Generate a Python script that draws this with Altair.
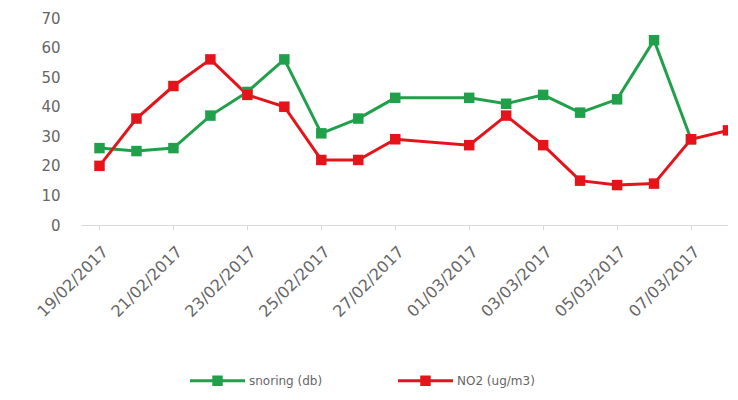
import altair as alt
import pandas as pd

dates = ["2017-02-19", "2017-02-20", "2017-02-21", "2017-02-22", "2017-02-23",
         "2017-02-24", "2017-02-25", "2017-02-26", "2017-02-27", "2017-03-01",
         "2017-03-02", "2017-03-03", "2017-03-04", "2017-03-05", "2017-03-06",
         "2017-03-07", "2017-03-08"]
snoring = [26, 25, 26, 37, 45, 56, 31, 36, 43, 43, 41, 44, 38, 42.5, 62.5, 29, None]
no2 = [20, 36, 47, 56, 44, 40, 22, 22, 29, 27, 37, 27, 15, 13.5, 14, 29, 32]
series_names = ["snoring (db)", "NO2 (ug/m3)"]
series_colors = ["#20a04b", "#e5141b"]
tick_dates = [(2017, 2, 19), (2017, 2, 21), (2017, 2, 23), (2017, 2, 25), (2017, 2, 27),
              (2017, 3, 1), (2017, 3, 3), (2017, 3, 5), (2017, 3, 7)]
y_ticks = [0, 10, 20, 30, 40, 50, 60, 70]

rows = []
for name, vals in zip(series_names, [snoring, no2]):
    for d, v in zip(dates, vals):
        if v is not None:
            rows.append({"date": d + "T00:00:00Z", "series": name, "value": v})
df = pd.DataFrame(rows)

font = "DejaVu Sans"
label_color = "#666666"

x_enc = alt.X(
    "date:T",
    scale=alt.Scale(type="utc",
                    domain=[alt.DateTime(year=2017, month=2, date=18, hours=12, utc=True),
                            alt.DateTime(year=2017, month=3, date=8, utc=True)]),
    axis=alt.Axis(
        title=None,
        values=[alt.DateTime(year=y, month=m, date=d, utc=True) for (y, m, d) in tick_dates],
        labelExpr="utcFormat(datum.value, '%d/%m/%Y')",
        labelAngle=-45,
        labelAlign="right",
        labelBaseline="top",
        labelPadding=13,
        labelOverlap=False,
        labelFont=font,
        labelFontSize=16,
        labelColor=label_color,
        domainColor="#d9d9d9",
        tickColor="#d9d9d9",
        tickSize=5,
        grid=False,
    ),
)
y_enc = alt.Y(
    "value:Q",
    scale=alt.Scale(domain=[0, 70], nice=False),
    axis=alt.Axis(
        title=None,
        values=y_ticks,
        domain=False,
        ticks=False,
        grid=False,
        labelPadding=21,
        labelFont=font,
        labelFontSize=15,
        labelColor=label_color,
    ),
)
color_scale = alt.Scale(domain=series_names, range=series_colors)

lines = alt.Chart(df).mark_line(strokeWidth=3).encode(
    x=x_enc, y=y_enc,
    color=alt.Color("series:N", scale=color_scale, legend=None, sort=series_names),
    detail="series:N",
)
points = alt.Chart(df).mark_square(size=110, opacity=1).encode(
    x=x_enc, y=y_enc,
    color=alt.Color(
        "series:N", scale=color_scale, sort=series_names,
        legend=alt.Legend(
            title=None,
            orient="none",
            direction="horizontal",
            legendX=109,
            legendY=335,
            symbolType="M-1,-0.055H1V0.055H-1Z M-0.19,-0.19H0.19V0.19H-0.19Z",
            symbolSize=3025,
            symbolStrokeWidth=0,
            symbolOpacity=1,
            labelFont=font,
            labelFontSize=12,
            labelColor=label_color,
            labelOffset=4,
            columnPadding=75,
        ),
    ),
)

chart = alt.layer(lines, points).resolve_legend(color="independent").properties(
    width=647,
    height=207,
    padding={"left": 73, "top": 10, "right": 0, "bottom": 165},
    autosize=alt.AutoSizeParams(type="none"),
    background="white",
).configure_view(stroke=None)

chart.save("out.html", embed_options={"renderer": "svg", "actions": False})
